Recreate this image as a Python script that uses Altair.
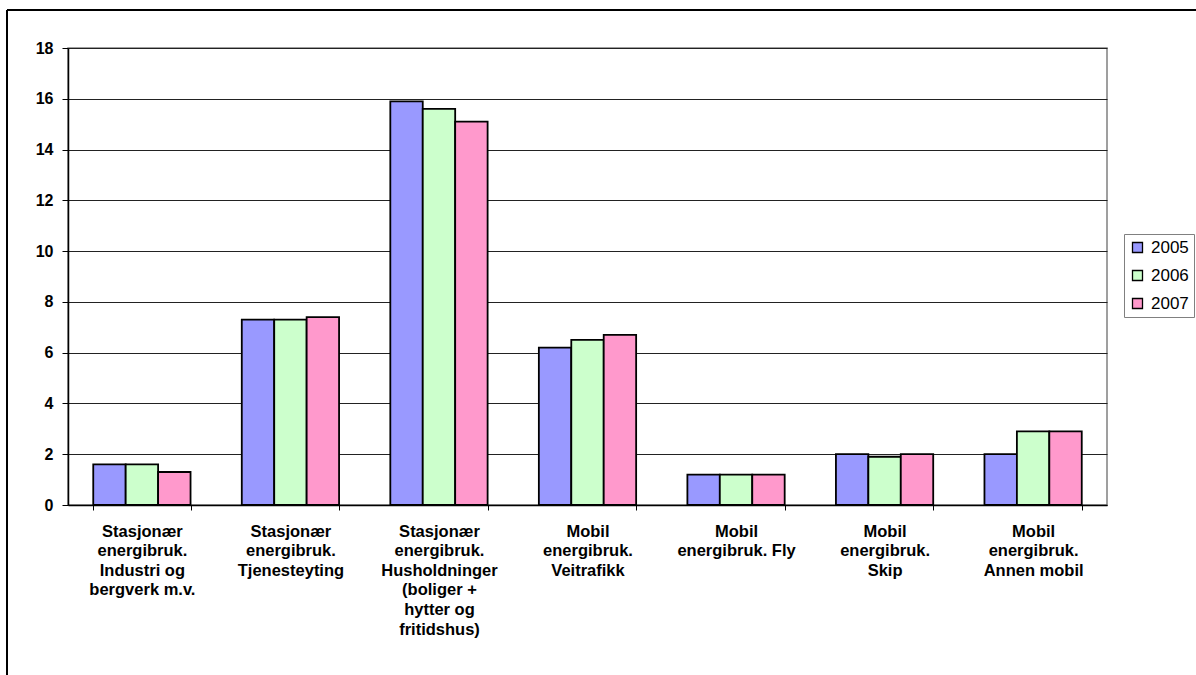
import altair as alt
import pandas as pd

categories = [
    "Stasjonær|energibruk.|Industri og|bergverk m.v.",
    "Stasjonær|energibruk.|Tjenesteyting",
    "Stasjonær|energibruk.|Husholdninger|(boliger +|hytter og|fritidshus)",
    "Mobil|energibruk.|Veitrafikk",
    "Mobil|energibruk. Fly",
    "Mobil|energibruk.|Skip",
    "Mobil|energibruk.|Annen mobil",
]
years = ["2005", "2006", "2007"]
v2005 = [1.6, 7.3, 15.9, 6.2, 1.2, 2.0, 2.0]
v2006 = [1.6, 7.3, 15.6, 6.5, 1.2, 1.9, 2.9]
v2007 = [1.3, 7.4, 15.1, 6.7, 1.2, 2.0, 2.9]
colors = ["#9999FF", "#CCFFCC", "#FF99CC"]
y_ticks = [0, 2, 4, 6, 8, 10, 12, 14, 16, 18]

rows = []
for yr, vals in zip(years, [v2005, v2006, v2007]):
    for c, v in zip(categories, vals):
        rows.append({"cat": c, "year": yr, "value": v})
df = pd.DataFrame(rows)

FONT = "Liberation Sans"
W, H = 1039, 457
PL, PT = 68, 48

bars = alt.Chart(df).mark_bar(stroke="black", strokeWidth=1.8).encode(
    x=alt.X(
        "cat:N",
        sort=categories,
        scale=alt.Scale(paddingInner=0.345, paddingOuter=0.17),
        axis=alt.Axis(
            title=None,
            labelAngle=0,
            labelExpr="split(datum.label, '|')",
            labelFont=FONT,
            labelFontWeight="bold",
            labelFontSize=16.5,
            labelColor="black",
            labelLineHeight=19.6,
            labelPadding=13,
            labelBaseline="top",
            labelLimit=300,
            tickBand="extent",
            tickColor="black",
            tickSize=5,
            domainColor="black",
            domainWidth=1.5,
            grid=False,
        ),
    ),
    xOffset=alt.XOffset("year:N", sort=years, scale=alt.Scale(paddingInner=0, paddingOuter=0)),
    y=alt.Y(
        "value:Q",
        scale=alt.Scale(domain=[0, 18], nice=False),
        axis=alt.Axis(
            title=None,
            values=y_ticks,
            labelFont=FONT,
            labelFontWeight="bold",
            labelFontSize=16,
            labelColor="black",
            labelPadding=9,
            tickColor="black",
            tickSize=6,
            domainColor="black",
            domainWidth=1.5,
            gridColor="#222222",
            gridWidth=1,
        ),
    ),
    color=alt.Color(
        "year:N",
        scale=alt.Scale(domain=years, range=colors),
        legend=alt.Legend(
            title=None,
            orient="none",
            legendX=1124 - PL,
            legendY=234 - PT,
            symbolType="square",
            symbolSize=100,
            symbolStrokeColor="black",
            symbolStrokeWidth=1.3,
            labelFont=FONT,
            labelFontSize=17,
            labelColor="black",
            labelOffset=5,
            rowPadding=10,
            padding=5,
            strokeColor="#808080",
            fillColor="white",
        ),
    ),
)

frame_data = alt.Data(values=[{"k": 1}])
top_line = alt.Chart(frame_data).mark_rule(color="black", strokeWidth=2).encode(
    x=alt.value(-61), x2=alt.value(1200), y=alt.value(-38)
)
left_line = alt.Chart(frame_data).mark_rule(color="black", strokeWidth=2).encode(
    x=alt.value(-61), y=alt.value(-38), y2=alt.value(700)
)

chart = alt.layer(bars, top_line, left_line).properties(
    width=W,
    height=H,
    autosize=alt.AutoSizeParams(type="none"),
    padding={"left": PL, "top": PT, "right": 1196 - PL - W, "bottom": 675 - PT - H},
    background="white",
).configure_view(stroke="#808080", strokeWidth=1.5)

chart.save("out.html", embed_options={"renderer": "svg", "actions": False})
